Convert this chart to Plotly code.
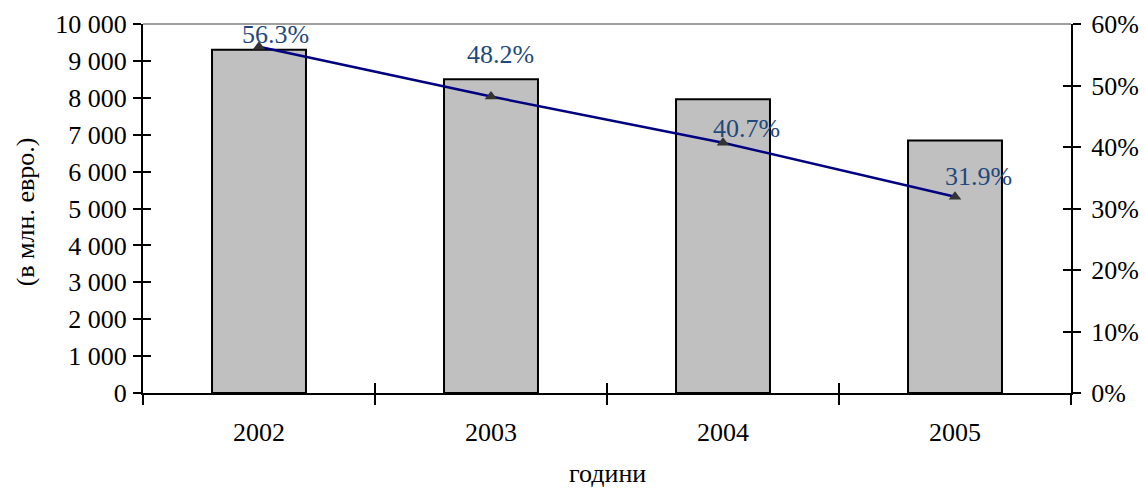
import plotly.graph_objects as go

years = ["2002", "2003", "2004", "2005"]
amounts = [9300, 8500, 7960, 6840]          # в млн. евро
shares = [56.3, 48.2, 40.7, 31.9]           # %
label_dx = [16, 9, 23, 23]
label_dy = [12, 42, 14, 20]

FONT = "Liberation Serif"
FS = 26

fig = go.Figure()
fig.add_trace(go.Bar(x=years, y=amounts, width=0.405,
                     marker=dict(color="#C0C0C0", line=dict(color="black", width=2)),
                     xaxis="x", yaxis="y", showlegend=False, hoverinfo="skip"))
fig.add_trace(go.Scatter(x=years, y=shares, mode="lines+markers",
                         line=dict(color="#000080", width=2.5),
                         marker=dict(symbol="triangle-up", size=11, color="#333333"),
                         xaxis="x2", yaxis="y2", showlegend=False))
# invisible helpers for crossing ticks
fig.add_trace(go.Scatter(x=years, y=amounts, mode="markers", marker=dict(opacity=0),
                         xaxis="x", yaxis="y3", showlegend=False, hoverinfo="skip"))
fig.add_trace(go.Scatter(x=years, y=shares, mode="markers", marker=dict(opacity=0),
                         xaxis="x", yaxis="y4", showlegend=False, hoverinfo="skip"))

for i, (v, dx, dy) in enumerate(zip(shares, label_dx, label_dy)):
    fig.add_annotation(x=i, y=v, xref="x2", yref="y2", text=f"{v:.1f}%",
                       showarrow=False, xshift=dx, yshift=dy,
                       font=dict(family=FONT, size=FS, color="#1F497D"))

fig.add_annotation(text="(в млн. евро.)", xref="paper", yref="paper",
                   x=-0.127, y=0.49, textangle=-90, showarrow=False,
                   xanchor="center", yanchor="middle",
                   font=dict(family=FONT, size=FS, color="black"))
fig.add_annotation(text="години", xref="paper", yref="paper",
                   x=0.5, y=-0.262, showarrow=False,
                   xanchor="center", yanchor="bottom",
                   font=dict(family=FONT, size=FS, color="black"))

fig.add_shape(type="line", xref="paper", yref="paper", x0=0, x1=1, y0=1, y1=1,
              line=dict(color="#A0A0A0", width=2))

common_x = dict(type="category", categoryorder="array", categoryarray=years,
                range=[-0.5, 3.5], tickson="boundaries", showgrid=False, zeroline=False,
                automargin=False)
common_y = dict(showgrid=False, zeroline=False, automargin=False)
fig.update_layout(
    width=1145, height=491,
    margin=dict(l=143, r=74, t=24, b=98, autoexpand=False),
    paper_bgcolor="white", plot_bgcolor="white",
    separators=". ",
    font=dict(family=FONT, size=FS, color="black"),
    xaxis=dict(**common_x, showline=True, linecolor="black", linewidth=2,
               ticks="outside", ticklen=10, tickwidth=2, tickcolor="black",
               ticklabelstandoff=15),
    xaxis2=dict(**common_x, overlaying="x", showline=False,
                ticks="inside", ticklen=10, tickwidth=2, tickcolor="black",
                showticklabels=False),
    yaxis=dict(**common_y, range=[0, 10000], dtick=1000, tickformat=",d",
               showline=True, linecolor="black", linewidth=2,
               ticks="outside", ticklen=8, tickwidth=2, tickcolor="black",
               ticklabelstandoff=1),
    yaxis3=dict(**common_y, range=[0, 10000], dtick=1000, overlaying="y", side="left",
                showline=False, ticks="inside", ticklen=8, tickwidth=2, tickcolor="black",
                showticklabels=False),
    yaxis2=dict(**common_y, range=[0, 60], dtick=10, ticksuffix="%", overlaying="y", side="right",
                showline=True, linecolor="black", linewidth=2,
                ticks="outside", ticklen=8, tickwidth=2, tickcolor="black",
                ticklabelstandoff=5),
    yaxis4=dict(**common_y, range=[0, 60], dtick=10, overlaying="y", side="right",
                showline=False, ticks="inside", ticklen=8, tickwidth=2, tickcolor="black",
                showticklabels=False),
)

fig.write_html("out.html", config={"displayModeBar": False},
               post_script="document.body.style.margin='0';document.body.style.overflow='hidden';")
